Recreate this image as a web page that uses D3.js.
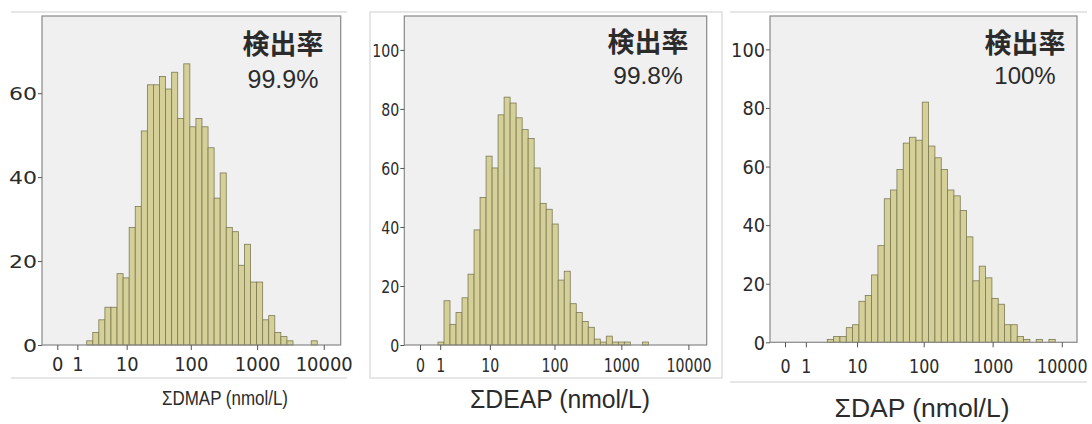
<!DOCTYPE html>
<html>
<head>
<meta charset="utf-8">
<script src="https://cdn.jsdelivr.net/npm/d3@7"></script>
<style>
    body { margin: 0; background: #fff; }
    svg { display: block; }
</style>
</head>
<body>
<div id="chart"></div>
<script>
// counts per bin (bins are equal steps of log10(v + 1))
const countsDMAP = [1, 3, 6, 9, 9, 17, 16, 28, 33, 51, 62, 62, 64, 61, 65, 54, 67, 52, 54, 52,
    47, 35, 41, 28, 27, 19, 24, 15, 15, 6, 7, 3, 2, 1, 0, 0, 0, 1];
const countsDEAP = [1, 15, 7, 11, 16, 24, 39, 50, 64, 60, 78, 84, 82, 77, 73, 70, 60, 48, 46, 41,
    22, 25, 14, 11, 8, 6, 2, 1, 3, 1, 1, 1, 0, 0, 1];
const countsDAP = [1, 2, 2, 5, 6, 14, 16, 23, 33, 49, 52, 59, 68, 70, 69, 82, 67, 63, 59, 52,
    50, 45, 36, 21, 26, 22, 15, 13, 6, 6, 2, 1, 0, 1, 0, 1];

// first bin edge and bin width, in log10(v + 1)
const binStarts = [0.4414, 0.268, 0.611];
const binSteps = [0.0911, 0.0896, 0.0915];

const xTickValues = [0, 1, 10, 100, 1000, 10000];
const yTicksDMAP = [0, 20, 40, 60];
const yTicksDEAP = [0, 20, 40, 60, 80, 100];
const yTicksDAP = [0, 20, 40, 60, 80, 100];

const axisTitles = ['ΣDMAP (nmol/L)', 'ΣDEAP (nmol/L)', 'ΣDAP (nmol/L)'];
const detectLabel = '検出率';
const detectRates = ['99.9%', '99.8%', '100%'];

const COLOURS = {
    BAR_FILL: '#d5cf98',
    BAR_STROKE: '#7c7a56',
    PLOT_BG: '#f0f0f0',
    FRAME: '#888',
    TICK: '#555',
    TEXT: '#2b2b2b',
    SEPARATOR: '#dedede'
};

// placement of each panel (copied from the screenshot layout)
const LAYOUT = [
    { left: 42, right: 340.7, top: 16, bottom: 345, xLog: [-0.2297, 4.255], yMax: 78.4,
      yDigit: 14, yFont: 18, xDigit: 11.4, xFont: 20, xBase: 371,
      titleX: 283, titleY: 54, rateY: 88, rateSize: 25,
      axisX: 225, axisY: 405, axisW: 126, axisSize: 21 },
    { left: 404.3, right: 706.7, top: 16, bottom: 345, xLog: [-0.234, 4.273], yMax: 111.5,
      yDigit: 9, yFont: 17, xDigit: 9, xFont: 19, xBase: 372,
      titleX: 648, titleY: 52, rateY: 83.5, rateSize: 24.5,
      axisX: 560, axisY: 408, axisW: 180, axisSize: 25 },
    { left: 770, right: 1077, top: 16, bottom: 342.3, xLog: [-0.2168, 4.2197], yMax: 111.4,
      yDigit: 11.3, yFont: 19, xDigit: 10.1, xFont: 19, xBase: 373,
      titleX: 1025, titleY: 52.5, rateY: 83.5, rateSize: 24,
      axisX: 922, axisY: 417, axisW: 175, axisSize: 26 }
];

const fromLog = l => Math.sign(l) * (Math.pow(10, Math.abs(l)) - 1);

class HistogramPanel {
    constructor(counts, yTicks, idx) {
        this.idx = idx;
        this.cfg = LAYOUT[idx];
        this.bins = counts.map((c, i) => ({
            count: c,
            lo: fromLog(binStarts[idx] + i * binSteps[idx]),
            hi: fromLog(binStarts[idx] + (i + 1) * binSteps[idx])
        })).filter(b => b.count > 0);
        this.yTicks = yTicks;

        this.x = d3.scaleSymlog().constant(1)
            .domain(this.cfg.xLog.map(fromLog))
            .range([this.cfg.left, this.cfg.right]);
        this.y = d3.scaleLinear()
            .domain([0, this.cfg.yMax])
            .range([this.cfg.bottom, this.cfg.top]);
    }

    draw(parent) {
        const c = this.cfg;
        const g = parent.append('g');

        g.append('rect')
            .attr('x', c.left).attr('y', c.top)
            .attr('width', c.right - c.left).attr('height', c.bottom - c.top)
            .attr('fill', COLOURS.PLOT_BG);

        g.append('g')
            .selectAll('rect')
            .data(this.bins)
            .join('rect')
            .attr('x', d => this.x(d.lo))
            .attr('width', d => this.x(d.hi) - this.x(d.lo))
            .attr('y', d => this.y(d.count))
            .attr('height', d => this.y(0) - this.y(d.count))
            .attr('fill', COLOURS.BAR_FILL)
            .attr('stroke', COLOURS.BAR_STROKE)
            .attr('stroke-width', 0.8);

        g.append('rect')
            .attr('x', c.left).attr('y', c.top)
            .attr('width', c.right - c.left).attr('height', c.bottom - c.top)
            .attr('fill', 'none')
            .attr('stroke', COLOURS.FRAME)
            .attr('stroke-width', 1.2);

        const yAxis = g.append('g')
            .attr('transform', 'translate(' + c.left + ',0)')
            .call(d3.axisLeft(this.y).tickValues(this.yTicks).tickSize(4).tickPadding(1));
        this.styleAxis(yAxis, c.yFont, c.yDigit);
        yAxis.selectAll('text').attr('dy', '0.36em');

        const xAxis = g.append('g')
            .attr('transform', 'translate(0,' + c.bottom + ')')
            .call(d3.axisBottom(this.x).tickValues(xTickValues).tickFormat(d3.format('d')).tickSize(5));
        this.styleAxis(xAxis, c.xFont, c.xDigit);
        xAxis.selectAll('text').attr('y', c.xBase - c.bottom).attr('dy', 0);

        g.append('text')
            .attr('x', c.titleX).attr('y', c.titleY)
            .attr('text-anchor', 'middle')
            .attr('font-family', '"Noto Sans CJK JP", sans-serif')
            .attr('font-weight', 'bold')
            .attr('font-size', 27)
            .attr('fill', COLOURS.TEXT)
            .text(detectLabel);

        g.append('text')
            .attr('x', c.titleX).attr('y', c.rateY)
            .attr('text-anchor', 'middle')
            .attr('font-family', '"Liberation Sans", Arial, sans-serif')
            .attr('font-size', c.rateSize)
            .attr('fill', COLOURS.TEXT)
            .text(detectRates[this.idx]);

        g.append('text')
            .attr('x', c.axisX).attr('y', c.axisY)
            .attr('text-anchor', 'middle')
            .attr('font-family', '"Liberation Sans", Arial, sans-serif')
            .attr('font-size', c.axisSize)
            .attr('textLength', c.axisW)
            .attr('lengthAdjust', 'spacingAndGlyphs')
            .attr('fill', COLOURS.TEXT)
            .text(axisTitles[this.idx]);
    }

    styleAxis(axis, fontSize, digitW) {
        axis.select('.domain').remove();
        axis.selectAll('line').attr('stroke', COLOURS.TICK);
        axis.selectAll('text')
            .attr('font-family', '"DejaVu Sans", sans-serif')
            .attr('font-size', fontSize)
            .attr('fill', COLOURS.TEXT)
            .attr('textLength', d => String(d).length * digitW)
            .attr('lengthAdjust', 'spacingAndGlyphs');
    }
}

const svg = d3.select('#chart').append('svg')
    .attr('width', 1092).attr('height', 424);

// faint frames of the pasted screenshots
const sep = svg.append('g').attr('stroke', COLOURS.SEPARATOR).attr('stroke-width', 1.5).attr('fill', 'none');
sep.append('line').attr('x1', 11).attr('x2', 347).attr('y1', 12).attr('y2', 12);
sep.append('line').attr('x1', 11).attr('x2', 347).attr('y1', 378).attr('y2', 378);
sep.append('rect').attr('x', 370).attr('y', 12).attr('width', 352).attr('height', 366);
sep.append('line').attr('x1', 730).attr('x2', 1087).attr('y1', 12).attr('y2', 12);
sep.append('line').attr('x1', 730).attr('x2', 1087).attr('y1', 382).attr('y2', 382);

new HistogramPanel(countsDMAP, yTicksDMAP, 0).draw(svg);
new HistogramPanel(countsDEAP, yTicksDEAP, 1).draw(svg);
new HistogramPanel(countsDAP, yTicksDAP, 2).draw(svg);
</script>
</body>
</html>
